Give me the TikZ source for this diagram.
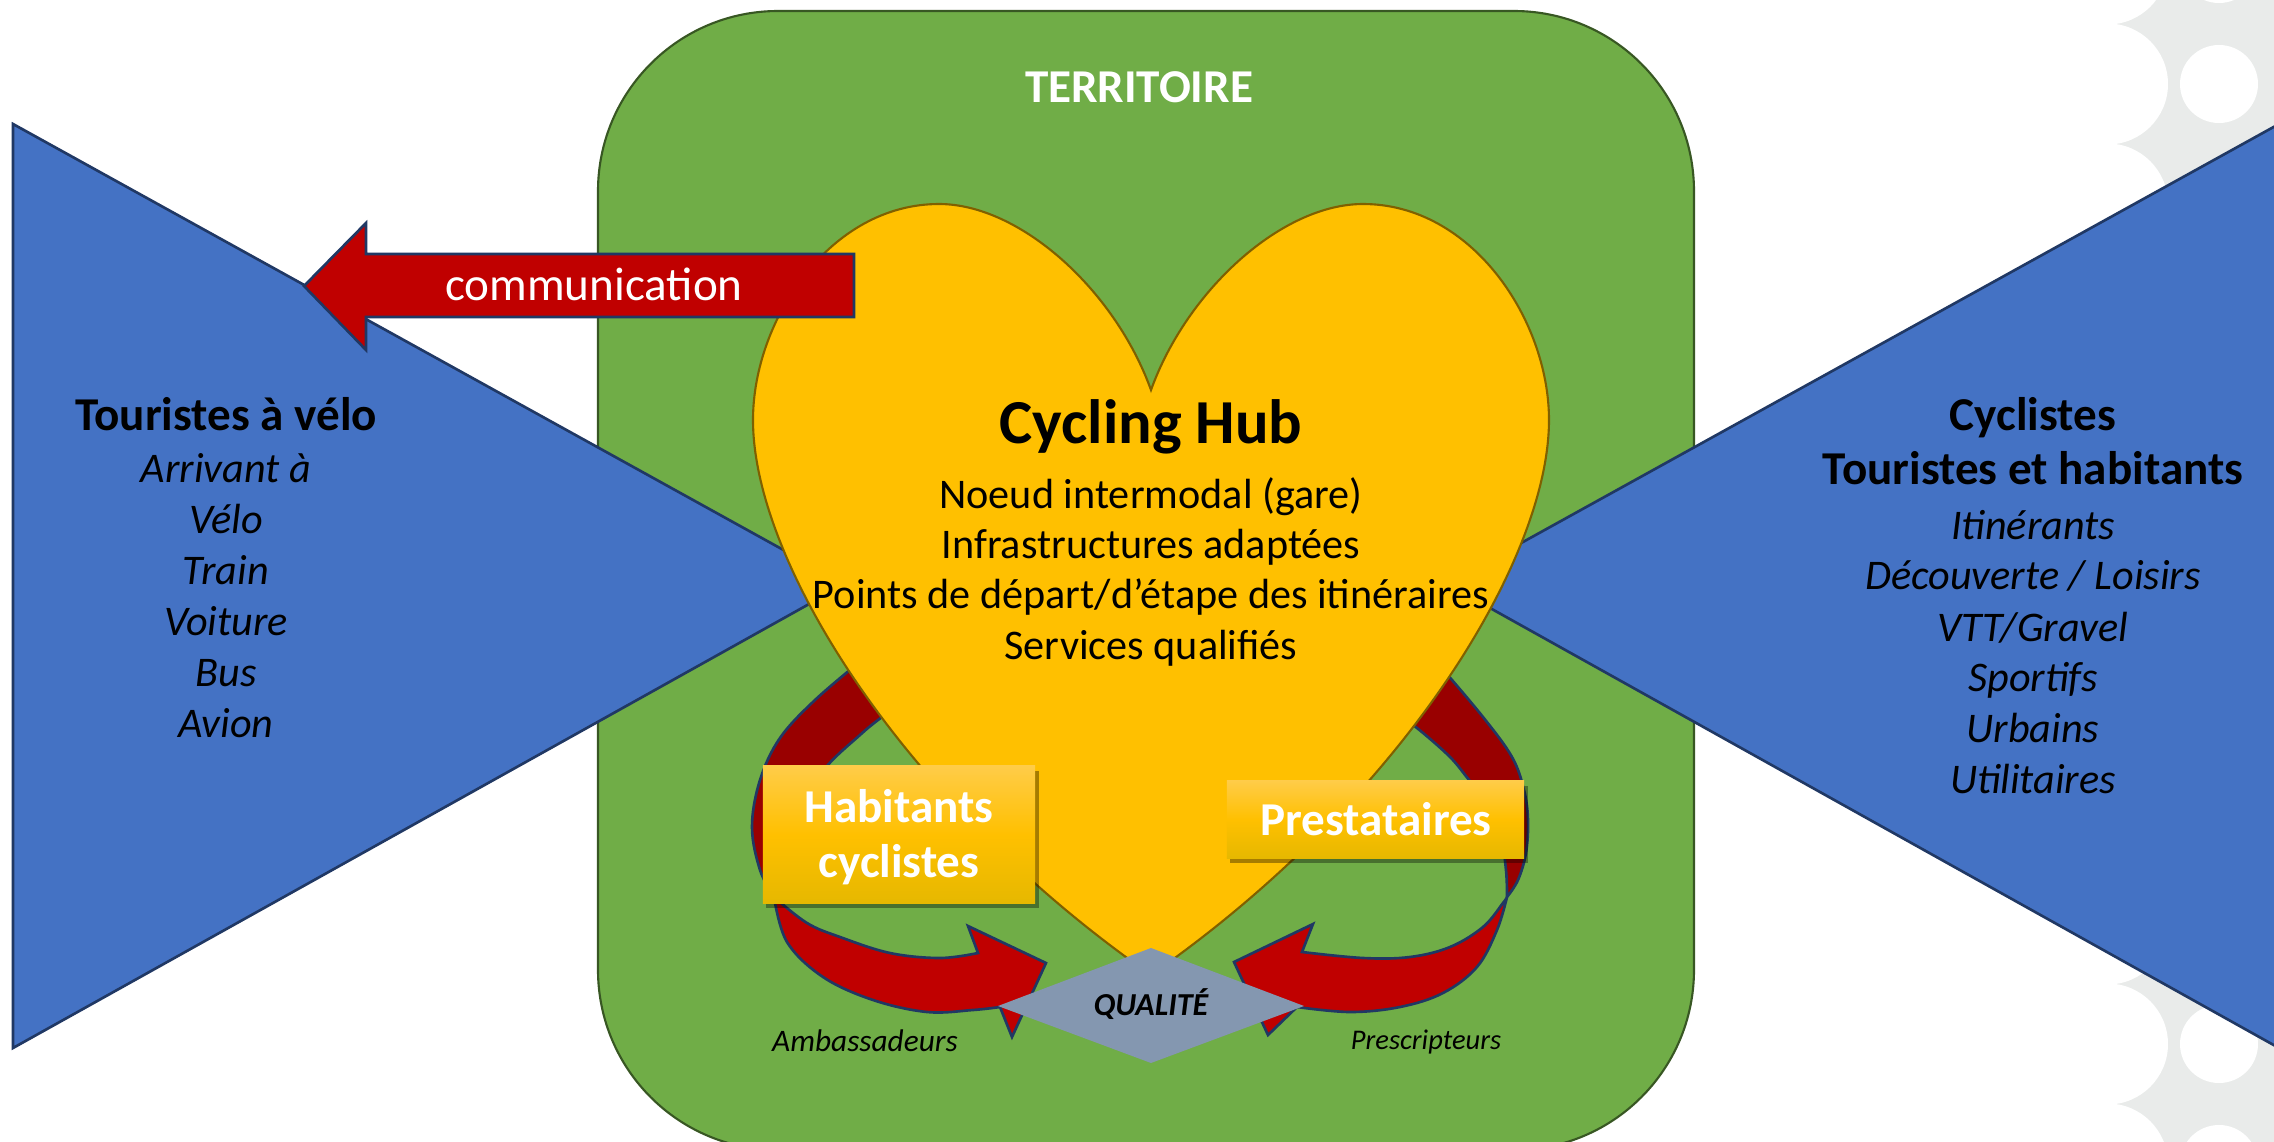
\documentclass[tikz,border=0pt]{standalone}
\usepackage{fontspec}
\setmainfont{Carlito}
\usetikzlibrary{shadows}
\definecolor{grn}{RGB}{112,173,71}
\definecolor{grnline}{RGB}{56,87,35}
\definecolor{blu}{RGB}{68,114,196}
\definecolor{navy}{RGB}{32,56,100}
\definecolor{gold}{RGB}{255,192,0}
\definecolor{goldline}{RGB}{127,96,0}
\definecolor{redA}{RGB}{192,0,0}
\definecolor{redB}{RGB}{153,0,0}
\definecolor{dia}{RGB}{132,151,176}
\definecolor{chaingray}{RGB}{233,235,234}
\definecolor{boxtop}{RGB}{255,204,72}
\definecolor{boxbot}{RGB}{230,184,0}
\newcommand\fsz[1]{\fontsize{#1}{#1}\selectfont}
\begin{document}
\begin{tikzpicture}[x=0.01cm,y=-0.01cm,
  lbl/.style={inner sep=0pt, anchor=base},
  ttl/.style={lbl, font=\fsz{13.4}\bfseries},
  itl/.style={lbl, font=\fsz{12}\itshape},
  bodytxt/.style={lbl, font=\fsz{12}},
  tri/.style={fill=blu, draw=navy, line width=0.75pt, line join=miter},
  adark/.style={fill=redB, draw=navy, line width=0.75pt, line join=round},
  abright/.style={fill=redA, draw=navy, line width=0.75pt, line join=miter},
  ybox/.style={inner sep=0pt, top color=boxtop, bottom color=boxbot, middle color=gold,
    drop shadow={shadow xshift=1pt, shadow yshift=-1.5pt, opacity=0.35, fill=black}},
  boxtxt/.style={lbl, text=white, font=\fsz{13.4}\bfseries}]
\useasboundingbox (0,0) rectangle (2274,1142);
\clip (0,0) rectangle (2274,1142);
\fill[white] (0,0) rectangle (2274,1142);

% decorative chain on the right edge
\fill[chaingray] (2101,0) rectangle (2290,1142);
\foreach \k in {-1,...,9} {
  \fill[white] (2107.5,{84+120*\k}) circle[radius=60.5];
  \fill[white] (2219,{84+120*\k}) circle[radius=39];
}

% territory
\draw[fill=grn, draw=grnline, line width=0.6pt, rounded corners=1.8cm] (598,11) rectangle (1694,1150);

% blue triangles
\draw[tri] (13,124) -- (845,584) -- (13,1048) -- cycle;
\draw[tri] (2279,124) -- (1447,584) -- (2279,1048) -- cycle;

% back (dark) parts of the curved arrows
\draw[adark] plot[smooth, tension=0.6] coordinates {(862,660) (815,700) (780,738) (760,780) (752,827) (760,870) (774,897)}
  -- plot[smooth, tension=0.6] coordinates {(774,897) (785,850) (805,800) (827,766) (860,735) (878,720) (905,700)} -- cycle;
\draw[adark] plot[smooth, tension=0.6] coordinates {(1440,666) (1483,717) (1512,757) (1524,790) (1528,820) (1526,853) (1518,880) (1507,897)}
  -- plot[smooth, tension=0.6] coordinates {(1507,897) (1506,870) (1500,830) (1488,800) (1470,781) (1450,757) (1417,728) (1392,710)} -- cycle;

% heart
\draw[fill=gold, draw=goldline, line width=0.6pt]
  (1151,390) .. controls (1115,290) and (1020,204) .. (939,204)
  .. controls (830,204) and (753,320) .. (753,420)
  .. controls (753,560) and (900,800) .. (1151,975)
  .. controls (1402,800) and (1549,560) .. (1549,420)
  .. controls (1549,320) and (1472,204) .. (1363,204)
  .. controls (1282,204) and (1187,290) .. (1151,390) -- cycle;

% front (bright) parts of the curved arrows
\draw[abright] plot[smooth, tension=0.6] coordinates {(774,897) (787,942) (823,977) (873,1000) (927,1012) (973,1010) (1000,1007)}
  -- (1012,1037) -- (1046,963) -- (968,926) -- (978,953)
  -- plot[smooth, tension=0.6] coordinates {(978,953) (940,958) (890,953) (840,937) (807,923) (774,897)} -- cycle;
\draw[abright] plot[smooth, tension=0.6] coordinates {(1507,897) (1497,930) (1477,967) (1443,993) (1400,1007) (1350,1012) (1297,1007)}
  -- (1268,1035) -- (1234,962) -- (1313,924) -- (1302,952)
  -- plot[smooth, tension=0.6] coordinates {(1302,952) (1363,958) (1410,957) (1450,947) (1483,927) (1503,903) (1507,897)} -- cycle;

% quality diamond
\fill[dia] (1151,948) -- (1304,1006) -- (1151,1063) -- (998,1006) -- cycle;
\node[lbl, font=\fsz{9.1}\bfseries\itshape] (qual) at (1151,1015) {QUALITÉ};
\node[lbl, font=\fsz{8.9}\itshape] (amb) at (865,1051) {Ambassadeurs};
\node[lbl, font=\fsz{8.1}\itshape] (presc) at (1426,1049) {Prescripteurs};

% boxes
\node[ybox, minimum width=2.72cm, minimum height=1.37cm] (hab) at (899,834.5) {};
\node[boxtxt] (hab1) at (899,822) {Habitants};
\node[boxtxt] (hab2) at (899,877) {cyclistes};
\node[ybox, minimum width=2.97cm, minimum height=0.77cm] (pres) at (1375.5,819.5) {};
\node[boxtxt] (pres1) at (1376,835) {Prestataires};

% communication arrow
\draw[fill=redA, draw=navy, line width=0.75pt, line join=miter]
  (304,286) -- (366,223) -- (366,254) -- (854,254) -- (854,317) -- (366,317) -- (366,350) -- cycle;
\node[lbl, text=white, font=\fsz{13.4}] (comm) at (594,300) {communication};

% territory title
\node[ttl, text=white] (terr) at (1139,102) {TERRITOIRE};

% heart texts
\node[lbl, font=\fsz{17.8}\bfseries] (hub) at (1151,443) {Cycling Hub};
\node[bodytxt] (h1) at (1151,508) {Noeud intermodal (gare)};
\node[bodytxt] (h2) at (1151,558) {Infrastructures adaptées};
\node[bodytxt] (h3) at (1151,608) {Points de départ/d’étape des itinéraires};
\node[bodytxt] (h4) at (1151,659) {Services qualifiés};

% left group
\node[ttl] (lt) at (226,430) {Touristes à vélo};
\node[itl] (l1) at (226,482) {Arrivant à};
\node[itl] (l2) at (226,533) {Vélo};
\node[itl] (l3) at (226,584) {Train};
\node[itl] (l4) at (226,635) {Voiture};
\node[itl] (l5) at (226,686) {Bus};
\node[itl] (l6) at (226,737) {Avion};

% right group
\node[ttl] (rt1) at (2033,430) {Cyclistes};
\node[ttl] (rt2) at (2033,484) {Touristes et habitants};
\node[itl] (r1) at (2033,539) {Itinérants};
\node[itl] (r2) at (2033,589) {Découverte / Loisirs};
\node[itl] (r3) at (2033,641) {VTT/Gravel};
\node[itl] (r4) at (2033,691) {Sportifs};
\node[itl] (r5) at (2033,742) {Urbains};
\node[itl] (r6) at (2033,793) {Utilitaires};
\end{tikzpicture}
\end{document}
